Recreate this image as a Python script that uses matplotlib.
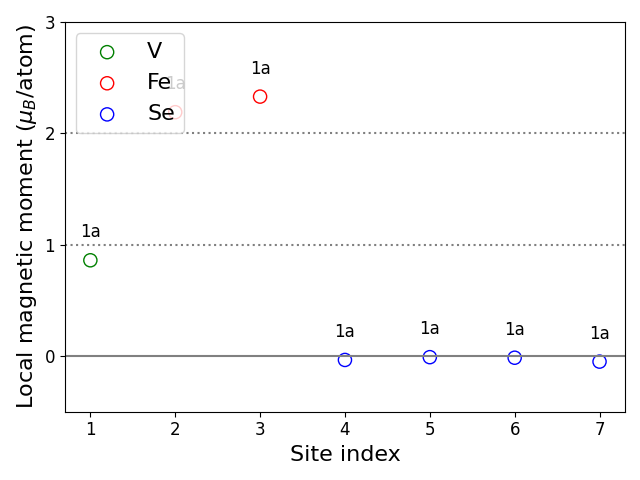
import matplotlib
matplotlib.use('Agg')
import matplotlib.pyplot as plt

site_index = [1, 2, 3, 4, 5, 6, 7]
elements = ['V', 'Fe', 'Fe', 'Se', 'Se', 'Se', 'Se']
moments = [0.86, 2.19, 2.33, -0.035, -0.01, -0.015, -0.05]
wyckoff = ['1a', '1a', '1a', '1a', '1a', '1a', '1a']
colors = {'V': 'green', 'Fe': 'red', 'Se': 'blue'}

fig, ax = plt.subplots(figsize=(6.4, 4.8), dpi=100)

ax.axhline(0, color='gray', lw=1.5)
for ref in (1, 2):
    ax.axhline(ref, color='gray', ls=':', lw=1.5)

for el in ['V', 'Fe', 'Se']:
    xs = [x for x, e in zip(site_index, elements) if e == el]
    ys = [m for m, e in zip(moments, elements) if e == el]
    ax.scatter(xs, ys, s=90, facecolors='none', edgecolors=colors[el], label=el)

for x, m, w in zip(site_index, moments, wyckoff):
    ax.text(x, m + 0.25, w, ha='center', va='center', fontsize=12)

ax.set_ylim(-0.5, 3)
ax.set_yticks([0, 1, 2, 3])
ax.set_xticks(site_index)
ax.tick_params(labelsize=12)
ax.set_xlabel('Site index', fontsize=16)
ax.set_ylabel(r'Local magnetic moment ($\mu_B$/atom)', fontsize=16)
ax.legend(loc='upper left', fontsize=16)

plt.tight_layout()
plt.savefig('out.png', dpi=100)
plt.close()
